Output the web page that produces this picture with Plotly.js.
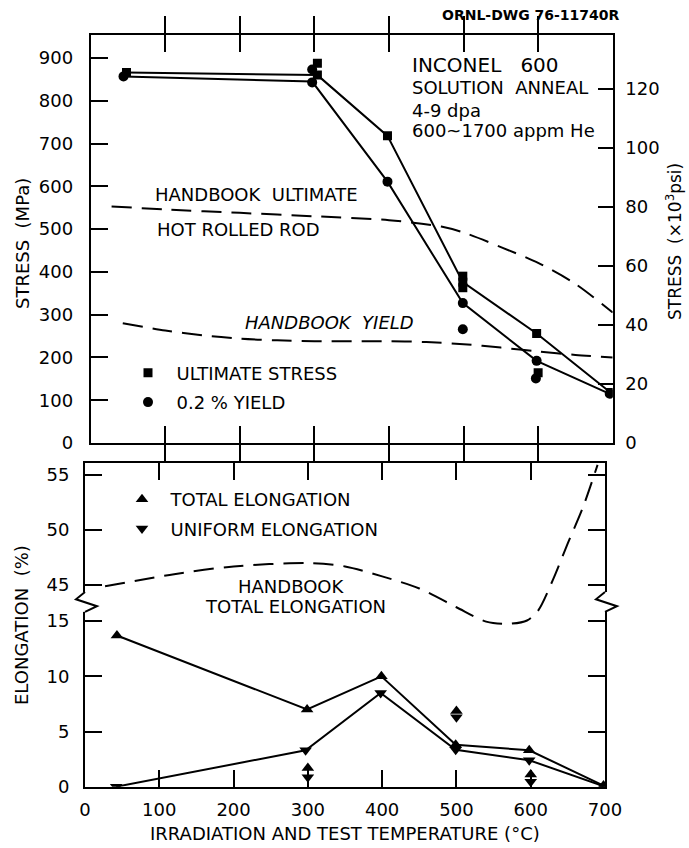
<!DOCTYPE html>
<html><head><meta charset="utf-8">
<script src="https://cdn.plot.ly/plotly-3.0.1.min.js"></script>
<style>html,body{margin:0;padding:0;background:#fff}#chart{width:689px;height:848px}</style>
</head><body><div id="chart"></div>
<script>
// ---------- Stress panel (MPa) ----------
const ultLineT   = [48, 304, 398, 499, 598, 697];
const ultLineMPa = [866, 860, 718, 376, 256, 118];
const yldLineT   = [44, 297, 398, 499, 598, 696];
const yldLineMPa = [857, 845, 611, 327, 192, 115];

const ultPtsT   = [48, 304, 304, 398, 499, 499, 499, 598, 600, 697];
const ultPtsMPa = [866, 888, 860, 718, 390, 376, 363, 256, 164, 118];
const yldPtsT   = [44, 297, 297, 398, 499, 499, 598, 597, 696];
const yldPtsMPa = [857, 873, 843, 611, 327, 266, 192, 151, 115];

const hbUltT   = [28, 100, 200, 300, 400, 470, 500, 550, 600, 650, 700];
const hbUltMPa = [553, 546, 538, 530, 521, 506, 492, 458, 421, 372, 305];
const hbYldT   = [43, 100, 150, 200, 250, 300, 400, 450, 500, 550, 600, 650, 700];
const hbYldMPa = [280, 263, 252, 244, 240, 238, 238, 236, 231, 223, 214, 206, 200];

const stressTicks = [0, 100, 200, 300, 400, 500, 600, 700, 800, 900];
const ksiTicks    = [0, 20, 40, 60, 80, 100, 120];
const MPA_PER_KSI = 6.89476;

// ---------- Elongation panel (%) ----------
const totLineT = [43, 299, 399, 499, 598, 698];
const totLine  = [13.7, 7.0, 10.0, 3.8, 3.3, 0.1];
const uniLineT = [42, 297, 398, 499, 598, 698];
const uniLine  = [0.0, 3.3, 8.5, 3.35, 2.4, 0.05];

const totPtsT = [43, 299, 300, 399, 499, 500, 598, 600, 698];
const totPts  = [13.7, 7.0, 1.7, 10.0, 3.8, 6.85, 3.3, 1.1, 0.1];
const uniPtsT = [42, 297, 300, 398, 499, 500, 598, 600, 698];
const uniPts  = [0.0, 3.3, 0.85, 8.5, 3.35, 6.3, 2.4, 0.45, 0.05];

const hbElT = [27, 120, 200, 300, 350, 400, 450, 500, 540, 570, 595, 610, 630, 650, 670, 690];
const hbEl  = [44.9, 46.0, 46.7, 47.0, 46.7, 45.8, 44.7, 43.0, 41.7, 41.5, 41.8, 42.7, 45.5, 48.8, 52.0, 55.9];

const elongTicks = [0, 5, 10, 15, 45, 50, 55];
const tempTicks  = [0, 100, 200, 300, 400, 500, 600, 700];

// broken-axis mapping: the 45-55 % band is drawn directly above 0-15 %
const BREAK_OFFSET = 26.74;
const brk = v => (v > 30 ? v - BREAK_OFFSET : v);

const FONT = 'DejaVu Sans';
const f = (s, extra) => Object.assign({family: FONT, size: s, color: '#000'}, extra || {});
const blk = '#000';
const dashed = {color: blk, width: 2, dash: '20px,10px', shape: 'spline', smoothing: 0.8};
const solid = {color: blk, width: 2};
const NB = '\u00A0';

const traces = [
  {x: hbUltT, y: hbUltMPa, xaxis: 'x', yaxis: 'y', mode: 'lines', line: dashed, showlegend: false},
  {x: hbYldT, y: hbYldMPa, xaxis: 'x', yaxis: 'y', mode: 'lines', line: dashed, showlegend: false},
  {x: ultLineT, y: ultLineMPa, xaxis: 'x', yaxis: 'y', mode: 'lines', line: solid, showlegend: false},
  {x: yldLineT, y: yldLineMPa, xaxis: 'x', yaxis: 'y', mode: 'lines', line: solid, showlegend: false},
  {x: ultPtsT, y: ultPtsMPa, xaxis: 'x', yaxis: 'y', mode: 'markers', name: 'ULTIMATE STRESS',
   marker: {symbol: 'square', size: 9, color: blk}, legend: 'legend', legendgroup: 'a'},
  {x: yldPtsT, y: yldPtsMPa, xaxis: 'x', yaxis: 'y', mode: 'markers', name: '0.2 % YIELD',
   marker: {symbol: 'circle', size: 10, color: blk}, legend: 'legend', legendgroup: 'b'},
  {x: ultLineT, y: ultLineMPa.map(v => v / MPA_PER_KSI), xaxis: 'x', yaxis: 'y2', mode: 'lines',
   line: {color: 'rgba(0,0,0,0)', width: 0}, showlegend: false, hoverinfo: 'skip'},

  {x: hbElT, y: hbEl.map(brk), xaxis: 'x2', yaxis: 'y3', mode: 'lines', line: dashed, showlegend: false},
  {x: totLineT, y: totLine.map(brk), xaxis: 'x2', yaxis: 'y3', mode: 'lines', line: solid, showlegend: false},
  {x: uniLineT, y: uniLine.map(brk), xaxis: 'x2', yaxis: 'y3', mode: 'lines', line: solid, showlegend: false},
  {x: totPtsT, y: totPts.map(brk), xaxis: 'x2', yaxis: 'y3', mode: 'markers', name: 'TOTAL ELONGATION',
   marker: {symbol: 'triangle-up', size: 11, color: blk}, legend: 'legend2', legendgroup: 'c'},
  {x: uniPtsT, y: uniPts.map(brk), xaxis: 'x2', yaxis: 'y3', mode: 'markers', name: 'UNIFORM ELONGATION',
   marker: {symbol: 'triangle-down', size: 11, color: blk}, legend: 'legend2', legendgroup: 'd'}
];

const W = 689, H = 848;
const px = x => x / W, py = y => 1 - y / H;

const axBase = {showline: true, linewidth: 2, linecolor: blk, ticks: 'inside', ticklen: 17, tickwidth: 2,
  tickcolor: blk, showgrid: false, zeroline: false, tickfont: f(18), fixedrange: true};

const STRESS_MAX = 953.8;
const ELONG_MAX = 29.33;

const ann = (text, x, y, extra) => Object.assign({text, x, y, showarrow: false, xanchor: 'center', yanchor: 'middle', font: f(18)}, extra);

const layout = {
  width: W, height: H, margin: {l: 0, r: 0, t: 0, b: 0},
  paper_bgcolor: '#fff', plot_bgcolor: 'rgba(0,0,0,0)',
  font: f(18),
  xaxis: Object.assign({}, axBase, {domain: [px(90.7), px(612.7)], range: [0, 700], anchor: 'y',
    tickvals: [100, 200, 300, 400, 500, 600], showticklabels: false, mirror: 'allticks'}),
  yaxis: Object.assign({}, axBase, {domain: [py(443), py(35)], range: [0, STRESS_MAX], anchor: 'x',
    tickvals: stressTicks, ticktext: stressTicks.map(String), ticklabelstandoff: 12}),
  yaxis2: Object.assign({}, axBase, {overlaying: 'y', side: 'right', anchor: 'x',
    range: [0, STRESS_MAX / MPA_PER_KSI], tickvals: ksiTicks, ticktext: ksiTicks.map(String),
    ticklen: 15, ticklabelstandoff: 7}),
  xaxis2: Object.assign({}, axBase, {domain: [px(85), px(605)], range: [0, 700], anchor: 'y3',
    tickvals: tempTicks, ticktext: tempTicks.map(String), mirror: 'allticks', ticklabelstandoff: 6}),
  yaxis3: Object.assign({}, axBase, {domain: [py(786.7), py(463)], range: [0, ELONG_MAX], anchor: 'x2',
    tickvals: elongTicks.map(brk), ticktext: elongTicks.map(String), mirror: 'allticks', ticklabelstandoff: 10}),
  showlegend: true,
  legend: {x: px(119.5), y: py(354.5), xanchor: 'left', yanchor: 'top', font: f(18), bgcolor: 'rgba(0,0,0,0)',
    traceorder: 'grouped', tracegroupgap: 3, itemwidth: 47},
  legend2: {x: px(113.5), y: py(481), xanchor: 'left', yanchor: 'top', font: f(18), bgcolor: 'rgba(0,0,0,0)',
    traceorder: 'grouped', tracegroupgap: 3, itemwidth: 47},
  annotations: [
    ann('ORNL-DWG 76-11740R', px(531), py(15), {xref: 'paper', yref: 'paper', font: f(14, {weight: 'bold'})}),
    ann('STRESS' + NB + NB + '(MPa)', px(22), py(244), {xref: 'paper', yref: 'paper', textangle: -90}),
    ann('STRESS' + NB + NB + '(×10<sup>3</sup>psi)', px(674), py(242), {xref: 'paper', yref: 'paper', textangle: -90, font: f(17)}),
    ann('ELONGATION' + NB + NB + '(%)', px(21), py(625), {xref: 'paper', yref: 'paper', textangle: -90}),
    ann('IRRADIATION AND TEST TEMPERATURE (°C)', px(345), py(833), {xref: 'paper', yref: 'paper'}),

    ann('INCONEL' + NB + NB + NB + '600', 428, 884, {xref: 'x', yref: 'y', xanchor: 'left', font: f(20)}),
    ann('SOLUTION' + NB + NB + 'ANNEAL', 428, 831, {xref: 'x', yref: 'y', xanchor: 'left'}),
    ann('4-9 dpa', 428, 778, {xref: 'x', yref: 'y', xanchor: 'left'}),
    ann('600~1700 appm He', 428, 730, {xref: 'x', yref: 'y', xanchor: 'left'}),
    ann('HANDBOOK' + NB + NB + 'ULTIMATE', 83, 582, {xref: 'x', yref: 'y', xanchor: 'left'}),
    ann('HOT ROLLED ROD', 86, 498, {xref: 'x', yref: 'y', xanchor: 'left'}),
    ann('HANDBOOK' + NB + NB + 'YIELD', 204, 281, {xref: 'x', yref: 'y', xanchor: 'left', font: f(18, {style: 'italic'})}),

    ann('HANDBOOK', 278, 18.18, {xref: 'x2', yref: 'y3'}),
    ann('TOTAL ELONGATION', 284, 16.36, {xref: 'x2', yref: 'y3'})
  ],
  shapes: [
    {type: 'rect', xref: 'paper', yref: 'y3', x0: px(82), x1: px(88.5), y0: 15.84, y1: 17.64, fillcolor: '#fff', line: {width: 0}, layer: 'above'},
    {type: 'path', xref: 'paper', yref: 'y3', layer: 'above', line: {color: blk, width: 2},
     path: `M${px(85)},17.64 L${px(76)},16.98 L${px(97)},16.35 L${px(85)},15.84`},
    {type: 'rect', xref: 'paper', yref: 'y3', x0: px(601.5), x1: px(608), y0: 15.84, y1: 17.64, fillcolor: '#fff', line: {width: 0}, layer: 'above'},
    {type: 'path', xref: 'paper', yref: 'y3', layer: 'above', line: {color: blk, width: 2},
     path: `M${px(605)},17.64 L${px(596)},16.98 L${px(617)},16.35 L${px(605)},15.84`}
  ]
};

Plotly.newPlot('chart', traces, layout, {staticPlot: true});
</script></body></html>
